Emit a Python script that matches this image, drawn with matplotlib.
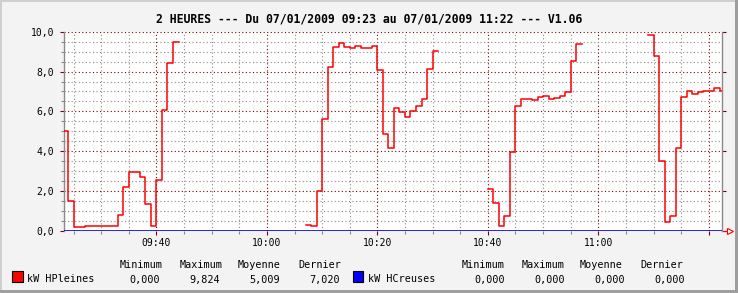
import numpy as np
import matplotlib
matplotlib.use("Agg")
import matplotlib.pyplot as plt
import matplotlib.dates as mdates
from matplotlib.patches import Rectangle
from matplotlib.ticker import MultipleLocator

nan = np.nan

# un echantillon par minute a partir de 09:23
debut = np.datetime64("2009-01-07T09:23")
hp_pleines = [
    5.0, 1.52, 0.2, 0.2, 0.25, 0.25, 0.25, 0.25, 0.25, 0.25,
    0.78, 2.2, 2.95, 2.95, 2.7, 1.35, 0.25, 2.55, 6.05, 8.45,
    9.5, nan, nan, nan, nan, nan, nan, nan, nan, nan,
    nan, nan, nan, nan, nan, nan, nan, nan, nan, nan,
    nan, nan, nan, nan, 0.28, 0.23, 2.03, 5.6, 8.23, 9.23,
    9.43, 9.23, 9.18, 9.28, 9.18, 9.18, 9.3, 8.07, 4.88, 4.18,
    6.18, 5.98, 5.73, 6.03, 6.28, 6.63, 8.13, 9.03, nan, nan,
    nan, nan, nan, nan, nan, nan, nan, 2.12, 1.38, 0.23,
    0.73, 3.95, 6.28, 6.63, 6.63, 6.58, 6.7, 6.78, 6.63, 6.68,
    6.77, 6.98, 8.53, 9.38, nan, nan, nan, nan, nan, nan,
    nan, nan, nan, nan, nan, nan, 9.82, 8.78, 3.52, 0.45,
    0.73, 4.15, 6.73, 7.03, 6.88, 6.98, 7.03, 7.03, 7.18, 7.02,
]
hp_creuses = [0.0] * len(hp_pleines)

titre = "2 HEURES --- Du 07/01/2009 09:23 au 07/01/2009 11:22 --- V1.06"
entetes = ["Minimum", "Maximum", "Moyenne", "Dernier"]
stats_pleines = ["0,000", "9,824", "5,009", "7,020"]
stats_creuses = ["0,000", "0,000", "0,000", "0,000"]
etiquettes_x = ["09:40", "10:00", "10:20", "10:40", "11:00", ""]

temps = debut + np.arange(len(hp_pleines) + 1) * np.timedelta64(1, "m")
y_hp = np.append(hp_pleines, hp_pleines[-1])
y_hc = np.append(hp_creuses, hp_creuses[-1])

W, H = 738, 293
fig = plt.figure(figsize=(W / 100, H / 100), dpi=100)
fig.patch.set_facecolor("#f3f3f3")

# cadre facon rrdtool
fig.add_artist(Rectangle((0, 0), 2 / W, 1, transform=fig.transFigure, color="#cfcfcf", lw=0))
fig.add_artist(Rectangle((0, 1 - 2 / H), 1, 2 / H, transform=fig.transFigure, color="#cfcfcf", lw=0))
fig.add_artist(Rectangle((1 - 3 / W, 0), 3 / W, 1, transform=fig.transFigure, color="#9e9e9e", lw=0))
fig.add_artist(Rectangle((0, 0), 1, 3 / H, transform=fig.transFigure, color="#9e9e9e", lw=0))

ax = fig.add_axes([64 / W, (H - 231) / H, (722 - 64) / W, (231 - 31.7) / H])
ax.set_facecolor("white")

mono = "DejaVu Sans Mono"
rouge_f = "#800000"
gris = "#8a8a8a"
pointille = (0, (1, 2.2))

ax.set_ylim(0, 10)
ax.set_xlim(np.datetime64("2009-01-07T09:23:16"), np.datetime64("2009-01-07T11:22:24"))

ax.xaxis.set_major_locator(mdates.MinuteLocator(byminute=[0, 20, 40]))
ax.xaxis.set_minor_locator(mdates.MinuteLocator(byminute=range(0, 60, 5)))
ax.xaxis.set_major_formatter(lambda v, p: etiquettes_x[p] if p is not None and p < len(etiquettes_x) else "")
ax.yaxis.set_major_locator(MultipleLocator(2))
ax.yaxis.set_minor_locator(MultipleLocator(0.5))
ax.yaxis.set_major_formatter(lambda v, p: f"{v:.1f}".replace(".", ","))

ax.grid(which="minor", color=gris, linestyle=pointille, linewidth=0.8)
ax.grid(which="major", color=rouge_f, linestyle=pointille, linewidth=0.8)
ax.set_axisbelow(True)

for s in ["top", "bottom"]:
    ax.spines[s].set_visible(False)
for s in ["left", "right"]:
    ax.spines[s].set_color(gris)
    ax.spines[s].set_linewidth(1.0)

ax.tick_params(which="major", length=3, width=0.8, color=rouge_f, labelsize=7, pad=2)
ax.tick_params(which="minor", length=2, width=0.8, color=gris)
ax.tick_params(axis="y", which="major", right=True, pad=4)
for lab in ax.get_xticklabels() + ax.get_yticklabels():
    lab.set_family(mono)

ax.step(temps, y_hc, where="post", color="#0000ff", lw=1.2, zorder=3)
ax.axhline(0, color=rouge_f, linestyle=pointille, lw=0.8, zorder=3.5)
ax.step(temps, y_hp, where="post", color="#ff0000", lw=1.1, zorder=4)

# fleche de l'axe x
ax.plot([1.0, 1.012], [0, 0], transform=ax.transAxes, color="#ff0000", lw=0.8, clip_on=False)
ax.plot([1.012], [0], transform=ax.transAxes, marker=">", markersize=5, mfc="white",
        mec="#ff0000", mew=0.8, clip_on=False)

def ftext(x, y, s, **kw):
    fig.text(x / W, 1 - y / H, s, family=mono, va="center", **kw)

ftext(369, 18.5, titre, ha="center", fontsize=8.3, fontweight="bold")

# legende
fig.add_artist(Rectangle((12.5 / W, 1 - 281.5 / H), 10 / W, 10.5 / H, transform=fig.transFigure,
                         facecolor="#ff0000", edgecolor="black", lw=0.8))
fig.add_artist(Rectangle((352.5 / W, 1 - 281.5 / H), 10 / W, 10.5 / H, transform=fig.transFigure,
                         facecolor="#0000ff", edgecolor="black", lw=0.8))
ftext(27, 279.5, "kW HPleines", ha="left", fontsize=7.3)
ftext(368, 279.5, "kW HCreuses", ha="left", fontsize=7.3)

x_ent_g = [162, 222, 281, 341]
x_val_g = [159.5, 220, 279.5, 339.5]
x_ent_d = [504, 564, 623, 683]
x_val_d = [505, 565, 625, 685]
for i, t in enumerate(entetes):
    ftext(x_ent_g[i], 264.5, t, ha="right", fontsize=7.3)
    ftext(x_val_g[i], 279.5, stats_pleines[i], ha="right", fontsize=7.3)
    ftext(x_ent_d[i], 264.5, t, ha="right", fontsize=7.3)
    ftext(x_val_d[i], 279.5, stats_creuses[i], ha="right", fontsize=7.3)

fig.savefig("out.png", dpi=100, facecolor=fig.get_facecolor())
